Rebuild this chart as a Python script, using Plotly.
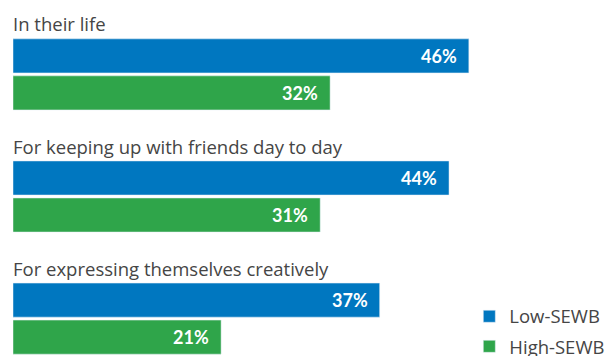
import plotly.graph_objects as go

categories = [
    "In their life",
    "For keeping up with friends day to day",
    "For expressing themselves creatively",
]
low_sewb = [46, 44, 37]
high_sewb = [32, 31, 21]
series_names = ["Low-SEWB", "High-SEWB"]

blue = "#0077C0"
green = "#2FA54A"
font = "Open Sans"

# one row = 1 unit on the y axis, groups are spaced 3.3 rows apart
group_step = 3.3
first_row = 1.51
y_low = [first_row + i * group_step for i in range(len(categories))]
y_high = [y + 1 for y in y_low]

fig = go.Figure()
fig.add_trace(go.Bar(
    x=low_sewb, y=y_low, orientation="h", width=0.92,
    marker_color=blue, name=series_names[0], legendgroup="a",
    hoverinfo="skip",
))
fig.add_trace(go.Bar(
    x=high_sewb, y=y_high, orientation="h", width=0.92,
    marker_color=green, name=series_names[1], legendgroup="b",
    hoverinfo="skip",
))

annotations = []
for cat, y in zip(categories, y_low):
    annotations.append(dict(
        x=0, y=y - 0.5, text=cat, showarrow=False,
        xanchor="left", yanchor="bottom", xshift=-2, yshift=-1,
        font=dict(family=font, size=18.5, color="#454545"),
    ))
for vals, ys in ((low_sewb, y_low), (high_sewb, y_high)):
    for v, y in zip(vals, ys):
        annotations.append(dict(
            x=v, y=y, text=f"<b>{v}%</b>", showarrow=False,
            xanchor="right", yanchor="middle", xshift=-10,
            font=dict(family="Lato", size=18, color="white"),
        ))

# the page body keeps an 8px margin, so the figure is 8px smaller and
# the y range starts 8px lower to keep everything where it belongs
fig.update_layout(
    width=607, height=348,
    margin=dict(l=5, r=0, t=0, b=0, autoexpand=False),
    paper_bgcolor="white", plot_bgcolor="white",
    barmode="overlay",
    xaxis=dict(range=[0, 60.75], visible=False, fixedrange=True),
    yaxis=dict(range=[9.62, 0.216], visible=False, fixedrange=True),
    annotations=annotations,
    showlegend=True,
    legend=dict(
        x=0.758, y=-0.028, xanchor="left", yanchor="bottom",
        tracegroupgap=3, bgcolor="rgba(0,0,0,0)",
        font=dict(family=font, size=18.5, color="#454545"),
    ),
)

fig.write_html("out.html")
